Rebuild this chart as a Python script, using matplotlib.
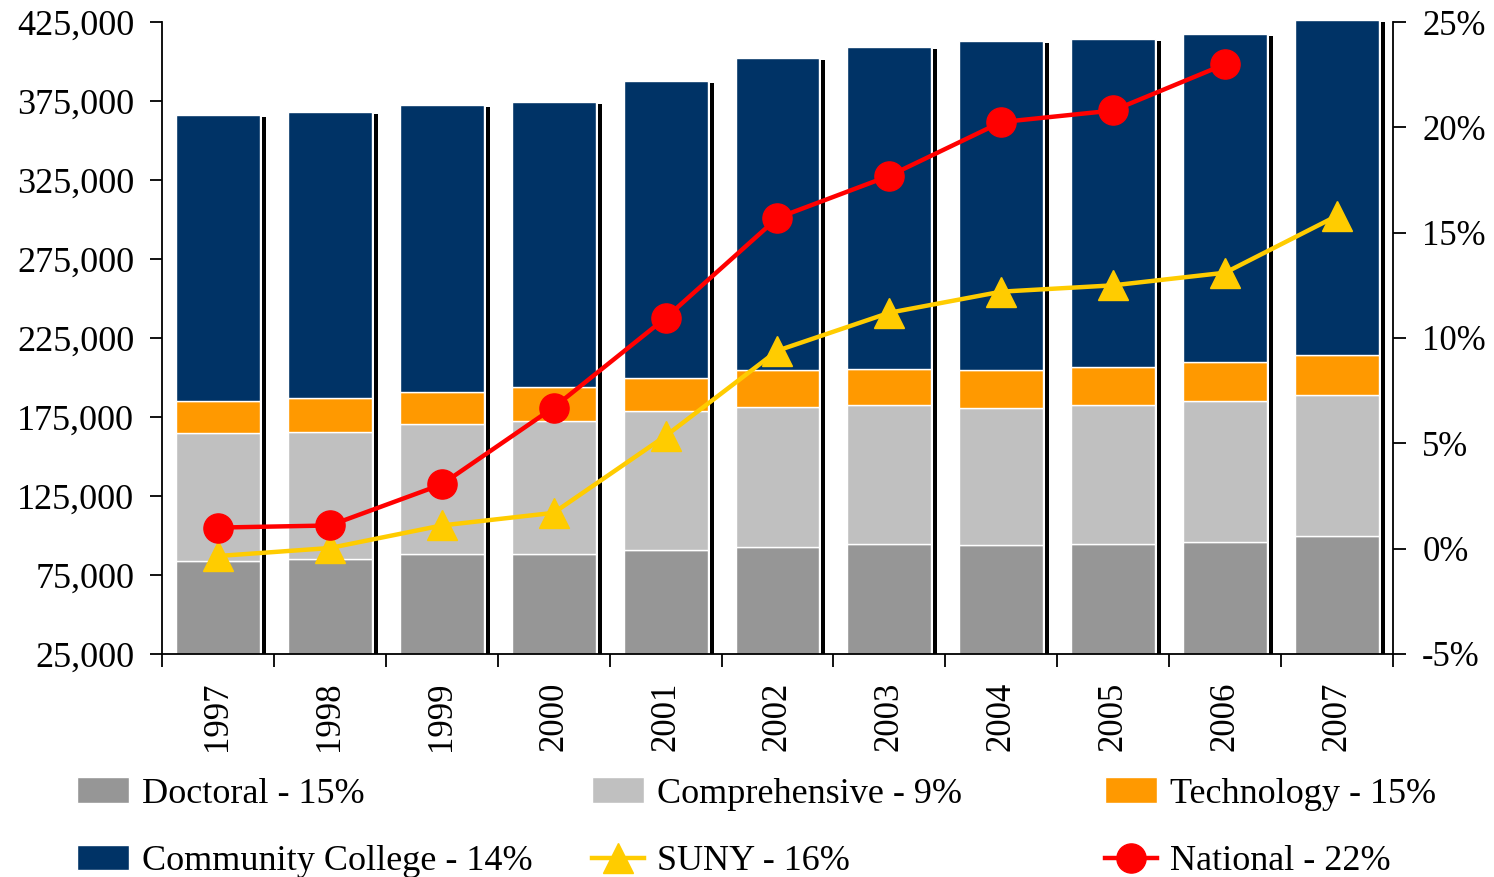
import numpy as np
import matplotlib
matplotlib.use("Agg")
import matplotlib.pyplot as plt

plt.rcParams['font.family'] = ['Liberation Serif', 'DejaVu Serif']

years = ['1997', '1998', '1999', '2000', '2001', '2002', '2003', '2004', '2005', '2006', '2007']
# cumulative tops
doctoral_top = [83900, 85100, 88300, 88300, 90800, 92700, 94600, 94000, 94600, 95900, 99700]
compreh_top = [164900, 165500, 170600, 172500, 178800, 181300, 182600, 180700, 182600, 185100, 188900]
tech_top = [185100, 187000, 190800, 194000, 199700, 204700, 205400, 204700, 206600, 209800, 214200]
commun_top = [366100, 368000, 372500, 374400, 387700, 402200, 409200, 413000, 414200, 417400, 426500]
suny_pct = [-0.35, 0.03, 1.1, 1.7, 5.35, 9.4, 11.2, 12.2, 12.5, 13.1, 15.8]
national_pct = [1.0, 1.1, 3.05, 6.7, 10.95, 15.7, 17.7, 20.25, 20.8, 23.0]

base = 25000  # axis floor
doctoral = np.array(doctoral_top) - base
comprehensive = np.array(compreh_top) - np.array(doctoral_top)
technology = np.array(tech_top) - np.array(compreh_top)
community = np.array(commun_top) - np.array(tech_top)

fig = plt.figure(figsize=(14.94, 8.77), dpi=100)
ax = fig.add_axes([0.1084, 0.2543, 0.824, 0.7206])
x = np.arange(len(years))
w = 0.75

# shadow behind each bar
ax.bar(x + w / 2 + 0.018, np.array(commun_top) - 1300 - base, bottom=base, width=0.036, align='edge',
       color='black', zorder=1, clip_on=False)
kw = dict(width=w, edgecolor='white', linewidth=1.0, zorder=2, clip_on=False)
b1 = ax.bar(x, doctoral, bottom=base, color='#969696', label='Doctoral - 15%', **kw)
b2 = ax.bar(x, comprehensive, bottom=np.array(doctoral_top), color='#C0C0C0', label='Comprehensive - 9%', **kw)
b3 = ax.bar(x, technology, bottom=np.array(compreh_top), color='#FF9900', label='Technology - 15%', **kw)
b4 = ax.bar(x, community, bottom=np.array(tech_top), color='#003366',
            label='Community College - 14%', **kw)

ax.set_xlim(-0.5, len(years) - 0.5)
ax.set_ylim(25000, 425000)
ax.set_yticks(np.arange(25000, 425001, 50000))
ax.set_yticklabels(['{:,}'.format(v) for v in range(25000, 425001, 50000)])
ax.set_xticks(np.arange(-0.5, len(years), 1))
ax.set_xticklabels([])
ax.set_xticks(x, minor=True)
ax.set_xticklabels(years, minor=True, rotation=90)
ax.tick_params(axis='x', which='minor', length=0, pad=20, labelsize=25)
ax.tick_params(axis='x', which='major', length=9, width=1.3, direction='out')
ax.tick_params(axis='y', length=9, width=1.3, direction='out', pad=11, labelsize=26)
ax.spines['top'].set_visible(False)
ax.spines['right'].set_visible(False)
for s in ['left', 'bottom']:
    ax.spines[s].set_linewidth(1.3)

ax2 = ax.twinx()
ax2.set_ylim(-5, 25)
ax2.set_yticks(np.arange(-5, 26, 5))
ax2.set_yticklabels(['{}%'.format(v) for v in range(-5, 26, 5)])
ax2.tick_params(axis='y', length=9, width=1.3, direction='out', pad=12, labelsize=25)
ax2.spines['top'].set_visible(False)
ax2.spines['left'].set_visible(False)
ax2.spines['bottom'].set_visible(False)
ax2.spines['right'].set_linewidth(1.3)

l1, = ax2.plot(x, suny_pct, color='#FFCC00', lw=3.2, marker='^', markersize=22,
               label='SUNY - 16%', clip_on=False, zorder=3)
l2, = ax2.plot(x[:len(national_pct)], national_pct, color='#FF0000', lw=3.2, marker='o', markersize=21,
               label='National - 22%', clip_on=False, zorder=4)

leg_kw = dict(loc='center left', frameon=False, fontsize=26, borderpad=0, borderaxespad=0,
              handlelength=1.45, handletextpad=0.35, labelspacing=0.95)
fig.legend(handles=[b1, b4], bbox_to_anchor=(0.0515, 0.0562), **leg_kw)
fig.legend(handles=[b2, l1], bbox_to_anchor=(0.3963, 0.0562), **leg_kw)
fig.legend(handles=[b3, l2], bbox_to_anchor=(0.7396, 0.0562), **leg_kw)

fig.savefig('out.png', dpi=100)
